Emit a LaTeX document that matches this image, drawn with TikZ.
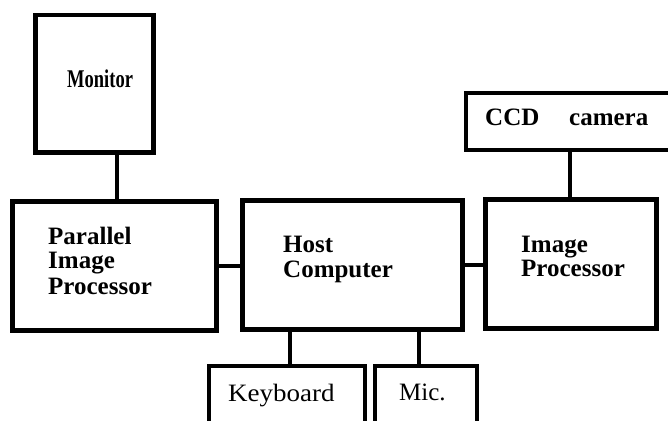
\documentclass[tikz,border=0pt]{standalone}
\usepackage{fontspec}
\setmainfont{Liberation Serif}
\begin{document}
\begin{tikzpicture}[x=1pt,y=-1pt,
  box/.style={draw, rectangle, line width=4.5pt, inner sep=0pt, anchor=north west},
  thinbox/.style={box, line width=3.5pt},
  conn/.style={line width=4pt},
  lbl/.style={anchor=base west, inner sep=0pt, font=\fontsize{25}{25.5}\selectfont\bfseries},
  rlbl/.style={lbl, font=\fontsize{25}{25.5}\selectfont}]
\useasboundingbox (0,0) rectangle (668,420);
\clip (0,0) rectangle (668,420);
% boxes
\node[box, minimum width=118pt, minimum height=137pt] (mon) at (33,13) {};
\node[box, minimum width=204pt, minimum height=129pt] (par) at (10,199) {};
\node[box, minimum width=220pt, minimum height=129pt] (host) at (240,198) {};
\node[box, minimum width=171pt, minimum height=129pt] (img) at (483,197) {};
\node[thinbox, minimum width=215pt, minimum height=57pt] (ccd) at (464,91) {};
\node[thinbox, minimum width=156pt, minimum height=70pt] (kb) at (207,364) {};
\node[thinbox, minimum width=102pt, minimum height=70pt] (mic) at (373,364) {};
% labels
\node[lbl] (tmon) at (67,87) {\scalebox{0.74}[1.02]{Monitor}};
\node[lbl] (tpar1) at (48,244) {Parallel};
\node[lbl] (tpar2) at (48,268) {Image};
\node[lbl] (tpar3) at (48,294) {Processor};
\node[lbl] (thost1) at (283,252) {Host};
\node[lbl] (thost2) at (283,277) {Computer};
\node[lbl] (timg1) at (521,252) {Image};
\node[lbl] (timg2) at (521,276) {Processor};
\node[lbl] (tccd1) at (485,125) {CCD};
\node[lbl] (tccd2) at (569,125) {camera};
\node[rlbl] (tkb) at (228,401) {\scalebox{1.08}[1]{Keyboard}};
\node[rlbl] (tmic) at (399,400) {Mic.};
% connectors
\coordinate (c1) at (117,0);
\coordinate (c2) at (570,0);
\coordinate (c3) at (290,0);
\coordinate (c4) at (419,0);
\draw[conn] (mon.south -| c1) -- (par.north -| c1);
\draw[conn] (par.east) -- (par.east -| host.west);
\draw[conn] (host.east) -- (host.east -| img.west);
\draw[conn] (ccd.south -| c2) -- (img.north -| c2);
\draw[conn] (host.south -| c3) -- (kb.north -| c3);
\draw[conn] (host.south -| c4) -- (mic.north -| c4);
\end{tikzpicture}
\end{document}
